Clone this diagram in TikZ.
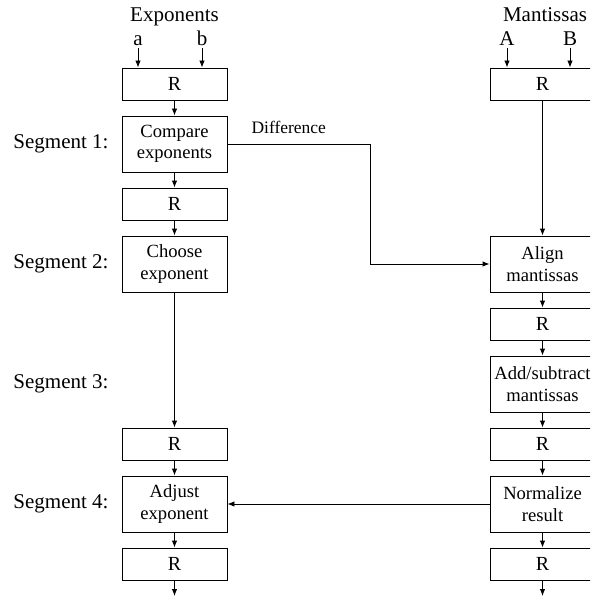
\documentclass[tikz,border=0pt]{standalone}
\usepackage{fontspec}
\setmainfont{Liberation Serif}
\usetikzlibrary{arrows.meta}

\begin{document}
\begin{tikzpicture}[x=1pt,y=-1pt,line width=0.9pt,
  >={Latex[length=7pt,width=5.5pt]},
  reg/.style={draw,minimum width=105pt,minimum height=32pt,inner sep=0pt,
    font=\fontsize{20}{22}\selectfont},
  unit/.style={draw,minimum width=105pt,minimum height=56pt,inner sep=0pt,
    align=center,font=\fontsize{18.6}{21.5}\selectfont},
  seg/.style={anchor=east,inner sep=0pt,font=\fontsize{21}{24}\selectfont},
  head/.style={anchor=base,inner sep=1.5pt,font=\fontsize{21}{24}\selectfont}]

% Column positions
\def\XL{174.5};
\def\XR{542.5};

\clip (0,0) rectangle (590,596);

% Input labels
\node[head] (expo) at (\XL,22) {Exponents};
\node[head] (ina) at (138,46) {a};
\node[head] (inb) at (202,46) {b};
\node[head] (mant) at (545,22) {Mantissas};
\node[head] (inA) at (507,46) {A};
\node[head] (inB) at (570,46) {B};

% Exponent side
\node[reg] (lr1) at (\XL,84) {R};
\node[unit] (cmp) at (\XL,144) {Compare\\exponents};
\node[reg] (lr2) at (\XL,204) {R};
\node[unit] (cho) at (\XL,264) {Choose\\exponent};
\node[reg] (lr3) at (\XL,444) {R};
\node[unit] (adj) at (\XL,504) {Adjust\\exponent};
\node[reg] (lr4) at (\XL,564) {R};

% Mantissa side
\node[reg] (rr1) at (\XR,84) {R};
\node[unit] (aln) at (\XR,264) {Align\\mantissas};
\node[reg] (rr2) at (\XR,324) {R};
\node[unit] (ads) at (\XR,384) {Add/subtract\\mantissas};
\node[reg] (rr3) at (\XR,444) {R};
\node[unit] (nrm) at (\XR,504) {Normalize\\result};
\node[reg] (rr4) at (\XR,564) {R};

% Segment labels
\foreach \y/\n in {144/1,264/2,384/3,504/4}
  \node[seg] (seg\n) at (109,\y) {Segment \n:};

% Inputs
\foreach \n/\r in {ina/lr1,inb/lr1,inA/rr1,inB/rr1}
  \draw[->] (\n.south) -- (\n.south |- \r.north);

% Pipeline arrows
\foreach \a/\b in {lr1/cmp,cmp/lr2,lr2/cho,cho/lr3,lr3/adj,adj/lr4,
                   rr1/aln,aln/rr2,rr2/ads,ads/rr3,rr3/nrm,nrm/rr4}
  \draw[->] (\a) -- (\b);

% Outputs
\coordinate (lout) at (\XL,596);
\coordinate (rout) at (\XR,596);
\draw[->] (lr4) -- (lout);
\draw[->] (rr4) -- (rout);

% Cross connections
\coordinate (dbend) at (370,144);
\draw[->] (cmp.east) -- node[pos=0.43,above=10pt,inner sep=0pt,
  font=\fontsize{17.5}{20}\selectfont] {Difference} (dbend) |- (aln.west);
\draw[->] (nrm.west) -- (adj.east);
\end{tikzpicture}
\end{document}
